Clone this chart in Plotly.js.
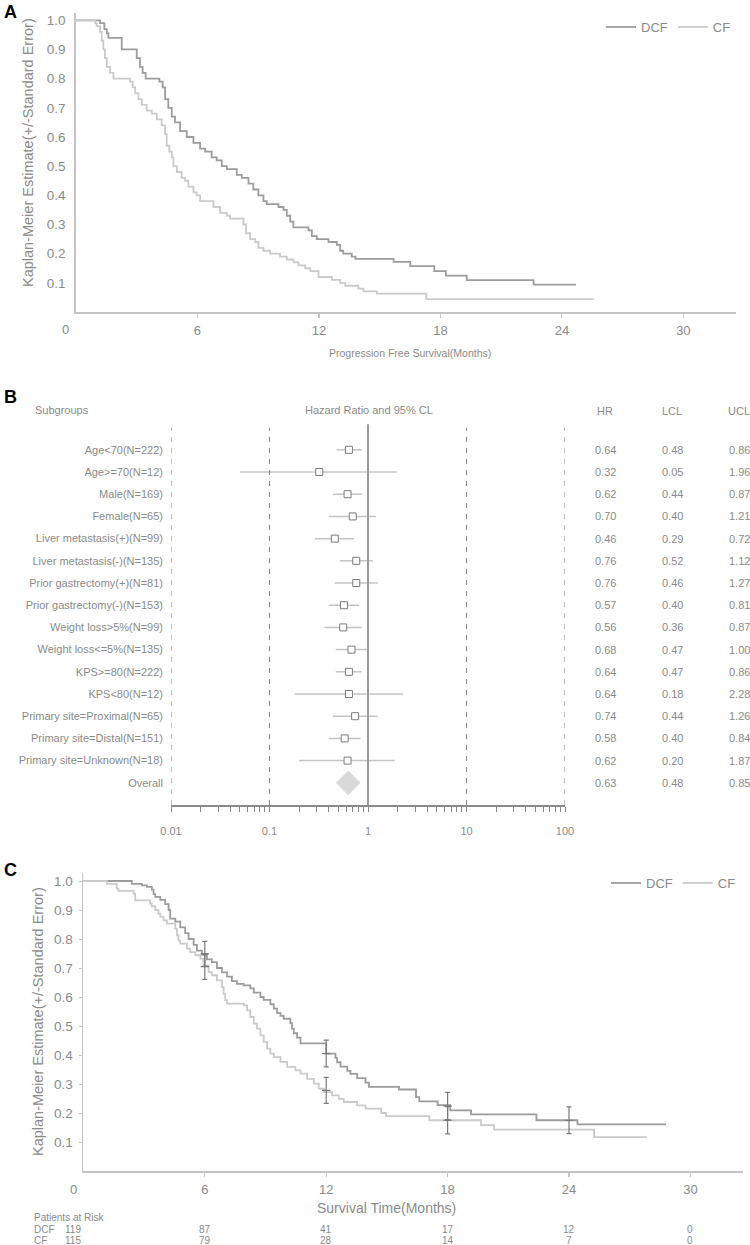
<!DOCTYPE html>
<html>
<head>
<meta charset="utf-8">
<script src="https://cdn.plot.ly/plotly-3.0.1.min.js"></script>
<style>html,body{margin:0;padding:0;background:#fff;}#chart{width:750px;height:1245px;}</style>
</head>
<body>
<div id="chart"></div>
<script>
// ---------- Panel A: Progression free survival ----------
const pfsDcfTime = [0, 1.19, 1.4, 1.52, 1.6, 2.26, 3.0, 3.16, 3.29, 3.44, 4.12, 4.28, 4.4, 4.56, 4.73, 4.89, 5.14, 5.47, 5.8, 6.13, 6.38, 6.7, 6.95, 7.2, 7.45, 7.94, 8.19, 8.52, 8.76, 9.01, 9.26, 9.42, 10.0, 10.25, 10.41, 10.58, 10.74, 11.48, 11.65, 11.89, 12.47, 12.88, 13.05, 13.2, 13.62, 13.8, 15.69, 16.51, 17.7, 18.27, 19.3, 22.6, 24.7];
const pfsDcfSurv = [1.0, 0.99, 0.97, 0.955, 0.94, 0.90, 0.87, 0.84, 0.82, 0.80, 0.79, 0.77, 0.73, 0.70, 0.67, 0.65, 0.62, 0.60, 0.58, 0.56, 0.55, 0.53, 0.52, 0.50, 0.49, 0.47, 0.46, 0.44, 0.42, 0.40, 0.38, 0.37, 0.36, 0.35, 0.33, 0.31, 0.29, 0.28, 0.26, 0.25, 0.24, 0.23, 0.21, 0.20, 0.19, 0.182, 0.172, 0.157, 0.14, 0.125, 0.109, 0.094, 0.094];
const pfsCfTime = [0, 0.95, 1.02, 1.19, 1.27, 1.35, 1.43, 1.52, 1.68, 1.85, 2.67, 2.8, 2.92, 3.08, 3.25, 3.49, 3.74, 3.99, 4.23, 4.4, 4.48, 4.61, 4.73, 4.81, 4.98, 5.22, 5.39, 5.55, 5.8, 5.96, 6.13, 6.79, 7.12, 7.45, 7.61, 8.27, 8.4, 8.6, 8.85, 9.01, 9.26, 9.59, 10.08, 10.41, 10.74, 10.99, 11.32, 11.57, 11.98, 12.64, 13.05, 13.3, 13.95, 14.2, 14.86, 17.3, 25.6];
const pfsCfSurv = [1.0, 0.99, 0.98, 0.96, 0.93, 0.90, 0.87, 0.84, 0.82, 0.80, 0.79, 0.77, 0.75, 0.73, 0.71, 0.69, 0.68, 0.66, 0.64, 0.61, 0.57, 0.55, 0.53, 0.50, 0.48, 0.46, 0.45, 0.43, 0.41, 0.40, 0.38, 0.36, 0.34, 0.33, 0.32, 0.30, 0.27, 0.25, 0.24, 0.22, 0.21, 0.20, 0.19, 0.18, 0.17, 0.16, 0.15, 0.14, 0.12, 0.11, 0.10, 0.09, 0.08, 0.071, 0.063, 0.044, 0.044];

// ---------- Panel B: forest plot ----------
const subgroups = ["Age<70(N=222)", "Age>=70(N=12)", "Male(N=169)", "Female(N=65)", "Liver metastasis(+)(N=99)", "Liver metastasis(-)(N=135)", "Prior gastrectomy(+)(N=81)", "Prior gastrectomy(-)(N=153)", "Weight loss>5%(N=99)", "Weight loss<=5%(N=135)", "KPS>=80(N=222)", "KPS<80(N=12)", "Primary site=Proximal(N=65)", "Primary site=Distal(N=151)", "Primary site=Unknown(N=18)", "Overall"];
const hr  = [0.64, 0.32, 0.62, 0.70, 0.46, 0.76, 0.76, 0.57, 0.56, 0.68, 0.64, 0.64, 0.74, 0.58, 0.62, 0.63];
const lcl = [0.48, 0.05, 0.44, 0.40, 0.29, 0.52, 0.46, 0.40, 0.36, 0.47, 0.47, 0.18, 0.44, 0.40, 0.20, 0.48];
const ucl = [0.86, 1.96, 0.87, 1.21, 0.72, 1.12, 1.27, 0.81, 0.87, 1.00, 0.86, 2.28, 1.26, 0.84, 1.87, 0.85];
const refLines = [0.01, 0.1, 10, 100];
const nullLine = 1;
const forestTicks = ["0.01", "0.1", "1", "10", "100"];

// ---------- Panel C: overall survival ----------
const osDcfTime = [0, 2.39, 2.89, 3.14, 3.38, 3.47, 3.55, 3.80, 4.04, 4.21, 4.29, 4.54, 4.79, 5.03, 5.2, 5.45, 5.61, 5.86, 6.11, 6.35, 6.6, 6.85, 7.1, 7.34, 7.59, 7.92, 8.25, 8.42, 8.75, 8.91, 9.24, 9.41, 9.57, 9.74, 9.9, 10.23, 10.31, 10.4, 10.56, 10.73, 12.0, 12.46, 12.54, 12.71, 13.04, 13.2, 13.53, 13.94, 14.11, 15.6, 16.44, 16.6, 17.51, 18.13, 19.16, 22.39, 24.42, 28.8];
const osDcfSurv = [1.0, 0.99, 0.985, 0.98, 0.97, 0.955, 0.945, 0.935, 0.92, 0.90, 0.87, 0.86, 0.84, 0.82, 0.80, 0.78, 0.76, 0.745, 0.73, 0.72, 0.70, 0.685, 0.67, 0.655, 0.645, 0.64, 0.63, 0.615, 0.60, 0.59, 0.575, 0.56, 0.545, 0.535, 0.525, 0.51, 0.49, 0.475, 0.46, 0.44, 0.405, 0.39, 0.375, 0.36, 0.345, 0.335, 0.32, 0.305, 0.29, 0.281, 0.255, 0.24, 0.227, 0.209, 0.195, 0.175, 0.161, 0.161];
const osCfTime = [0, 1.16, 1.65, 1.73, 2.48, 2.56, 3.3, 3.38, 3.55, 3.71, 3.8, 3.96, 4.13, 4.54, 4.62, 4.7, 4.79, 5.12, 5.28, 5.53, 5.78, 5.94, 6.19, 6.35, 6.6, 6.85, 6.93, 7.01, 7.1, 7.92, 8.09, 8.25, 8.42, 8.58, 8.75, 8.91, 9.08, 9.24, 9.41, 9.74, 10.07, 10.48, 10.73, 11.06, 11.39, 11.63, 11.88, 12.29, 12.62, 12.87, 13.53, 13.94, 14.72, 14.96, 17.1, 19.65, 20.3, 25.24, 27.84];
const osCfSurv = [1.0, 0.99, 0.974, 0.966, 0.956, 0.933, 0.922, 0.913, 0.9, 0.887, 0.876, 0.864, 0.853, 0.836, 0.813, 0.795, 0.784, 0.767, 0.755, 0.744, 0.732, 0.709, 0.686, 0.675, 0.657, 0.634, 0.611, 0.589, 0.577, 0.571, 0.554, 0.531, 0.508, 0.491, 0.468, 0.445, 0.422, 0.405, 0.393, 0.376, 0.359, 0.347, 0.336, 0.318, 0.301, 0.284, 0.272, 0.261, 0.249, 0.238, 0.226, 0.215, 0.2, 0.189, 0.175, 0.158, 0.143, 0.117, 0.117];
const errDcfTime = [6, 12, 18, 24];
const errDcfCenter = [0.749, 0.405, 0.224, 0.175];
const errDcfSE = [0.043, 0.046, 0.047, 0.046];
const errCfTime = [6, 12, 18];
const errCfCenter = [0.705, 0.278, 0.175];
const errCfSE = [0.044, 0.045, 0.047];
const riskMonths = [0, 6, 12, 18, 24, 30];
const riskDcf = [119, 87, 41, 17, 12, 0];
const riskCf = [115, 79, 28, 14, 7, 0];
const monthTicks = [6, 12, 18, 24, 30];
const survTicks = [0.1, 0.2, 0.3, 0.4, 0.5, 0.6, 0.7, 0.8, 0.9, 1.0];

// ---------- styling ----------
const W = 750, H = 1245;
const FONT = 'Liberation Sans, Arial, sans-serif';
const TXT = '#8a8a8a';
const DCF_COL = '#9c9c9c', CF_COL = '#cacaca', AXIS_COL = '#c4c4c4';
const px = v => v / W;
const py = v => 1 - v / H;
const esc = s => s.replace(/&/g, '&amp;').replace(/</g, '&lt;').replace(/>/g, '&gt;');

const traces = [];
// Panel A
traces.push({x: pfsDcfTime, y: pfsDcfSurv, type: 'scatter', mode: 'lines', line: {shape: 'hv', color: DCF_COL, width: 1.8}, name: 'DCF', xaxis: 'x', yaxis: 'y', legend: 'legend', hoverinfo: 'skip'});
traces.push({x: pfsCfTime, y: pfsCfSurv, type: 'scatter', mode: 'lines', line: {shape: 'hv', color: CF_COL, width: 1.8}, name: 'CF', xaxis: 'x', yaxis: 'y', legend: 'legend', hoverinfo: 'skip'});

// Panel B
const rowY = subgroups.map((_, i) => subgroups.length - 1 - i);
const nSub = subgroups.length - 1;
traces.push({
  x: hr.slice(0, nSub), y: rowY.slice(0, nSub), type: 'scatter', mode: 'markers', xaxis: 'x2', yaxis: 'y2', showlegend: false, hoverinfo: 'skip',
  marker: {symbol: 'square', size: 7, color: '#ffffff', line: {color: '#7a7a7a', width: 1}},
  error_x: {type: 'data', symmetric: false, array: ucl.slice(0, nSub).map((u, i) => u - hr[i]), arrayminus: lcl.slice(0, nSub).map((l, i) => hr[i] - l), color: '#c4c4c4', thickness: 1.5, width: 0}
});
traces.push({
  x: [hr[nSub]], y: [rowY[nSub]], type: 'scatter', mode: 'markers', xaxis: 'x2', yaxis: 'y2', showlegend: false, hoverinfo: 'skip',
  marker: {symbol: 'diamond', size: 19, color: '#d9d9d9', line: {width: 0}}
});

// Panel C
traces.push({x: osDcfTime, y: osDcfSurv, type: 'scatter', mode: 'lines', line: {shape: 'hv', color: DCF_COL, width: 1.8}, name: 'DCF', xaxis: 'x3', yaxis: 'y3', legend: 'legend2', hoverinfo: 'skip'});
traces.push({x: osCfTime, y: osCfSurv, type: 'scatter', mode: 'lines', line: {shape: 'hv', color: CF_COL, width: 1.8}, name: 'CF', xaxis: 'x3', yaxis: 'y3', legend: 'legend2', hoverinfo: 'skip'});
traces.push({x: errDcfTime, y: errDcfCenter, type: 'scatter', mode: 'markers', xaxis: 'x3', yaxis: 'y3', showlegend: false, hoverinfo: 'skip',
  marker: {symbol: 'line-ew', size: 6, line: {color: '#777', width: 1.2}},
  error_y: {type: 'data', array: errDcfSE, color: '#7a7a7a', thickness: 1.2, width: 2.5}});
traces.push({x: errCfTime, y: errCfCenter, type: 'scatter', mode: 'markers', xaxis: 'x3', yaxis: 'y3', showlegend: false, hoverinfo: 'skip',
  marker: {symbol: 'line-ew', size: 6, line: {color: '#777', width: 1.2}},
  error_y: {type: 'data', array: errCfSE, color: '#7a7a7a', thickness: 1.2, width: 2.5}});

// forest tick positions (decades with minor 2..9)
const fTickVals = [], fTickText = [];
[0.01, 0.1, 1, 10].forEach((d, k) => {
  for (let m = 1; m <= 9; m++) { fTickVals.push(+(d * m).toPrecision(3)); fTickText.push(m === 1 ? forestTicks[k] : ''); }
});
fTickVals.push(100); fTickText.push(forestTicks[4]);

const kmX = (dom) => ({
  domain: dom, range: [0, 32.6], tickvals: monthTicks, ticks: 'outside', ticklen: 4, tickcolor: AXIS_COL, tickwidth: 1.2,
  showline: true, linecolor: AXIS_COL, linewidth: 1.8, showgrid: false, zeroline: false, fixedrange: true,
  tickfont: {size: 13, color: TXT}, ticklabelstandoff: 2
});
const kmY = (dom, top, tl) => ({
  domain: dom, range: [0, top], tickvals: survTicks, tickformat: '.1f', ticks: tl ? 'outside' : '', ticklen: tl || 0, tickcolor: AXIS_COL,
  showline: true, linecolor: AXIS_COL, linewidth: 1.8, showgrid: false, zeroline: false, fixedrange: true,
  tickfont: {size: 13.5, color: TXT}, ticklabelstandoff: tl ? 3 : 6
});

const shapes = [];
refLines.forEach(v => shapes.push({type: 'line', xref: 'x2', yref: 'y2', x0: v, x1: v, y0: -1, y1: 16, line: {color: '#8a8a8a', width: 1.1, dash: '5px,6px'}}));
shapes.push({type: 'line', xref: 'x2', yref: 'y2', x0: nullLine, x1: nullLine, y0: -1, y1: 16.15, line: {color: '#9a9a9a', width: 2}});

const ann = [];
const A = (o) => ann.push(Object.assign({showarrow: false, xanchor: 'center', yanchor: 'middle', font: {family: FONT, size: 13, color: TXT}}, o));
// panel letters
A({text: '<b>A</b>', xref: 'paper', yref: 'paper', x: px(10), y: py(12), font: {family: FONT, size: 18, color: '#000'}});
A({text: '<b>B</b>', xref: 'paper', yref: 'paper', x: px(10), y: py(397), font: {family: FONT, size: 18, color: '#000'}});
A({text: '<b>C</b>', xref: 'paper', yref: 'paper', x: px(10), y: py(870), font: {family: FONT, size: 18, color: '#000'}});
// axis titles
A({text: 'Kaplan-Meier Estimate(+/-Standard Error)', xref: 'paper', yref: 'paper', x: px(28), y: py(153), textangle: -90, font: {family: FONT, size: 14.5, color: TXT}});
A({text: 'Progression Free Survival(Months)', xref: 'paper', yref: 'paper', x: px(410), y: py(353), font: {family: FONT, size: 10.5, color: TXT}});
A({text: '0', xref: 'x', yref: 'paper', x: 0, y: py(329), xshift: -11, font: {family: FONT, size: 13, color: TXT}});
A({text: 'Kaplan-Meier Estimate(+/-Standard Error)', xref: 'paper', yref: 'paper', x: px(38), y: py(1022), textangle: -90, font: {family: FONT, size: 14.5, color: TXT}});
A({text: 'Survival Time(Months)', xref: 'paper', yref: 'paper', x: px(386), y: py(1208), font: {family: FONT, size: 14, color: TXT}});
A({text: '0', xref: 'x3', yref: 'paper', x: 0, y: py(1189), xshift: -10, font: {family: FONT, size: 13, color: TXT}});
// forest headers
A({text: 'Subgroups', xref: 'paper', yref: 'paper', x: px(33), xanchor: 'left', y: py(410), font: {family: FONT, size: 11, color: TXT}});
A({text: 'Hazard Ratio and 95% CL', xref: 'paper', yref: 'paper', x: px(369), y: py(410), font: {family: FONT, size: 11, color: TXT}});
const colX = {HR: 605, LCL: 672, UCL: 739};
const colVals = {HR: hr, LCL: lcl, UCL: ucl};
Object.keys(colX).forEach(k => {
  A({text: k, xref: 'paper', yref: 'paper', x: px(colX[k]), y: py(411), font: {family: FONT, size: 11, color: TXT}});
  colVals[k].forEach((v, i) => A({text: v.toFixed(2), xref: 'paper', yref: 'y2', x: px(colX[k]), y: rowY[i], font: {family: FONT, size: 11, color: TXT}}));
});
// patients at risk
A({text: 'Patients at Risk', xref: 'paper', yref: 'paper', x: px(32), xanchor: 'left', y: py(1217), font: {family: FONT, size: 10, color: TXT}});
A({text: 'DCF', xref: 'paper', yref: 'paper', x: px(32), xanchor: 'left', y: py(1229), font: {family: FONT, size: 10, color: TXT}});
A({text: 'CF', xref: 'paper', yref: 'paper', x: px(32), xanchor: 'left', y: py(1240), font: {family: FONT, size: 10, color: TXT}});
riskMonths.forEach((m, i) => {
  A({text: String(riskDcf[i]), xref: 'x3', yref: 'paper', x: m, xshift: m === 0 ? -10 : 0, y: py(1229), font: {family: FONT, size: 10, color: TXT}});
  A({text: String(riskCf[i]), xref: 'x3', yref: 'paper', x: m, xshift: m === 0 ? -10 : 0, y: py(1240), font: {family: FONT, size: 10, color: TXT}});
});

const layout = {
  width: W, height: H, margin: {l: 0, r: 0, t: 0, b: 0}, paper_bgcolor: '#fff', plot_bgcolor: '#fff',
  font: {family: FONT, color: TXT, size: 13},
  xaxis: Object.assign(kmX([px(76), px(736)]), {anchor: 'y'}),
  yaxis: Object.assign(kmY([py(312), py(13)], 1.025, 0), {anchor: 'x'}),
  xaxis2: {domain: [px(171), px(565)], type: 'log', range: [-2, 2], anchor: 'y2', tickvals: fTickVals, ticktext: fTickText,
    ticks: 'outside', ticklen: 5, tickcolor: '#8a8a8a', tickwidth: 1, showline: true, linecolor: '#8a8a8a', linewidth: 1.5,
    showgrid: false, zeroline: false, fixedrange: true, tickfont: {size: 11, color: TXT}, ticklabelstandoff: 10},
  yaxis2: {domain: [py(805), py(423.2)], range: [-1, 16.2], anchor: 'x2', tickvals: rowY, ticktext: subgroups.map(esc),
    ticks: '', showline: false, showgrid: false, zeroline: false, fixedrange: true, tickfont: {size: 11, color: TXT}, ticklabelstandoff: 7},
  xaxis3: Object.assign(kmX([px(83.4), px(743)]), {anchor: 'y3'}),
  yaxis3: Object.assign(kmY([py(1171), py(873)], 1.0276, 3), {anchor: 'x3'}),
  legend: {orientation: 'h', x: px(736), xanchor: 'right', y: py(27), yanchor: 'middle', font: {size: 13, color: TXT}, bgcolor: 'rgba(0,0,0,0)', borderwidth: 0, itemwidth: 30, tracegroupgap: 0},
  legend2: {orientation: 'h', x: px(741), xanchor: 'right', y: py(883), yanchor: 'middle', font: {size: 13, color: TXT}, bgcolor: 'rgba(0,0,0,0)', borderwidth: 0, itemwidth: 30, tracegroupgap: 0},
  shapes: shapes, annotations: ann, hovermode: false
};

Plotly.newPlot('chart', traces, layout, {displayModeBar: false, staticPlot: true});
</script>
</body>
</html>
